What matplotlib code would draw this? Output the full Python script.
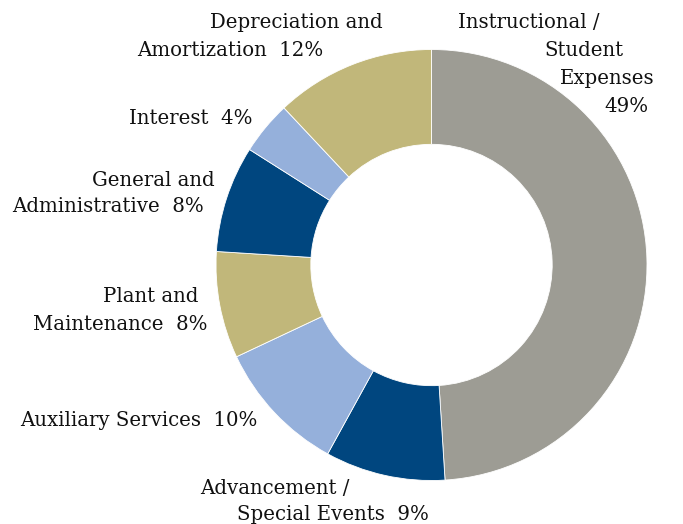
import matplotlib
matplotlib.use("Agg")
import matplotlib.pyplot as plt

categories = ["Instructional / Student Expenses", "Advancement / Special Events",
              "Auxiliary Services", "Plant and Maintenance", "General and Administrative",
              "Interest", "Depreciation and Amortization"]
values = [49, 9, 10, 8, 8, 4, 12]
colors = ["#9d9c94", "#00467f", "#95b0db", "#c1b77a", "#00467f", "#95b0db", "#c1b77a"]

# label lines: (text, left x px, center y px)
label_lines = [
    ("Depreciation and", 210, 22), ("Amortization  12%", 137, 50),
    ("Instructional /", 458, 22), ("Student", 544, 50), ("Expenses", 560, 79), ("49%", 604, 107),
    ("Interest  4%", 129, 118),
    ("General and", 92, 180), ("Administrative  8%", 12, 207),
    ("Plant and", 103, 297), ("Maintenance  8%", 33, 324),
    ("Auxiliary Services  10%", 20, 421),
    ("Advancement /", 200, 488), ("Special Events  9%", 237, 514),
]

W, H = 683, 524
fig = plt.figure(figsize=(W / 100, H / 100), dpi=100)
cx, cy, R = 431.5, 265, 215.5
ax = fig.add_axes([(cx - R) / W, (H - cy - R) / H, 2 * R / W, 2 * R / H])
ax.pie(values, colors=colors, startangle=90, counterclock=False, radius=1.0,
       wedgeprops=dict(width=0.44, edgecolor="white", linewidth=0.6))
ax.set_xlim(-1, 1)
ax.set_ylim(-1, 1)
ax.set_aspect("equal")
ax.axis("off")

for txt, x, y in label_lines:
    fig.text(x / W, 1 - y / H, txt, ha="left", va="center", fontsize=14.2,
             family="DejaVu Serif", color="#111111")

fig.savefig("out.png", dpi=100)
